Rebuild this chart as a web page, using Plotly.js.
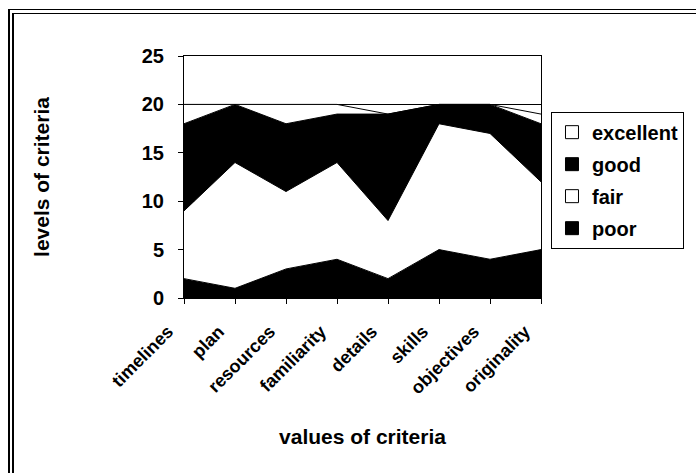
<!DOCTYPE html>
<html>
<head>
<meta charset="utf-8">
<script src="https://cdn.plot.ly/plotly-3.0.1.min.js"></script>
<style>
  html, body { margin: 0; padding: 0; background: #fff; }
  #wrap { position: relative; width: 696px; height: 473px; overflow: hidden; }
  #chart { position: absolute; left: 0; top: 0; width: 696px; height: 473px; }
  .fr { position: absolute; background: #000; pointer-events: none; }
</style>
</head>
<body>
<div id="wrap">
  <div id="chart"></div>
  <div class="fr" style="left:8px; top:10px; width:2px; height:463px;"></div>
  <div class="fr" style="left:8px; top:9px; width:688px; height:1px;"></div>
  <div class="fr" style="left:12px; top:14px; width:2px; height:459px;"></div>
  <div class="fr" style="left:12px; top:13px; width:684px; height:1px;"></div>
</div>
<script>
const categories = ["timelines", "plan", "resources", "familiarity", "details", "skills", "objectives", "originality"];
const poor      = [2, 1, 3, 4, 2, 5, 4, 5];
const fair      = [7, 13, 8, 10, 6, 13, 13, 7];
const good      = [9, 6, 7, 5, 11, 2, 3, 6];
const excellent = [2, 0, 2, 1, 0, 0, 0, 1];
const seriesNames = ["poor", "fair", "good", "excellent"];
const seriesFill = ["#000000", "#ffffff", "#000000", "#ffffff"];

const FONT = "Arial, 'Liberation Sans', sans-serif";
const allSeries = [poor, fair, good, excellent];

// stacked areas (not shown in legend)
const traces = allSeries.map((vals, i) => ({
  type: "scatter",
  mode: "lines",
  x: categories,
  y: vals,
  name: seriesNames[i],
  stackgroup: "one",
  fillcolor: seriesFill[i],
  line: { color: "#000000", width: 1 },
  showlegend: false,
  hoverinfo: "skip"
}));

// legend keys: square swatches, top entry = excellent
for (let i = seriesNames.length - 1; i >= 0; i--) {
  traces.push({
    type: "scatter",
    mode: "markers",
    x: [null],
    y: [null],
    name: seriesNames[i],
    legendgroup: "k" + i,
    showlegend: true,
    marker: { symbol: "square", size: 13, color: seriesFill[i], line: { color: "#000", width: 1 } },
    hoverinfo: "skip"
  });
}

const layout = {
  width: 696,
  height: 473,
  margin: { l: 184, r: 155, t: 56, b: 175, autoexpand: false },
  paper_bgcolor: "#ffffff",
  plot_bgcolor: "#ffffff",
  showlegend: true,
  legend: {
    x: 1.028, xanchor: "left",
    y: 0.77, yanchor: "top",
    traceorder: "grouped",
    tracegroupgap: 3,
    bordercolor: "#000000",
    borderwidth: 1,
    bgcolor: "#ffffff",
    font: { family: FONT, size: 20, color: "#000", weight: "bold" },
    itemwidth: 30
  },
  xaxis: {
    type: "category",
    range: [0, 7],
    showgrid: false,
    showline: true,
    linecolor: "#000",
    linewidth: 1,
    mirror: true,
    ticks: "outside",
    ticklen: 5,
    tickcolor: "#000",
    tickangle: -45,
    ticklabelstandoff: 10,
    ticklabelshift: -16,
    tickfont: { family: FONT, size: 18, color: "#000", weight: "bold" },
    title: { text: "values of criteria", font: { family: FONT, size: 21, color: "#000", weight: "bold" }, standoff: 32 },
    zeroline: false
  },
  yaxis: {
    range: [0, 25],
    dtick: 5,
    showgrid: true,
    gridcolor: "#000",
    gridwidth: 1,
    showline: true,
    linecolor: "#000",
    linewidth: 1,
    mirror: true,
    ticks: "outside",
    ticklen: 5,
    tickcolor: "#000",
    ticklabelstandoff: 10,
    tickfont: { family: FONT, size: 20, color: "#000", weight: "bold" },
    title: { text: "levels of criteria", font: { family: FONT, size: 21, color: "#000", weight: "bold" }, standoff: 86 },
    zeroline: false
  }
};

Plotly.newPlot("chart", traces, layout, { displayModeBar: false, staticPlot: true });
</script>
</body>
</html>
